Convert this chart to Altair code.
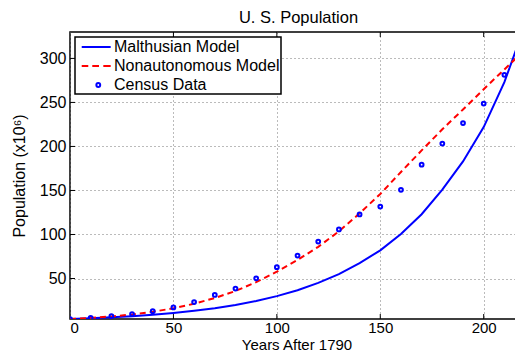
import altair as alt
import pandas as pd

# ---- data ----
years = [0, 10, 20, 30, 40, 50, 60, 70, 80, 90, 100, 110, 120, 130, 140, 150,
         160, 170, 180, 190, 200, 210, 220]
malthus = [3.9, 4.8, 5.9, 7.2, 8.8, 10.8, 13.3, 16.3, 19.9, 24.4, 30.0, 36.7,
           45.0, 55.0, 67.5, 82.0, 100.5, 123.0, 151.0, 183.0, 222.0, 273.0, 338.0]
nonauto = [3.9, 5.2, 6.9, 9.1, 12.2, 16.2, 21.3, 27.8, 35.8, 45.8, 57.8, 71.0,
           86.0, 103.5, 124.0, 146.0, 171.0, 195.5, 219.5, 242.0, 265.0, 287.5, 310.0]
census_years = [0, 10, 20, 30, 40, 50, 60, 70, 80, 90, 100, 110, 120, 130, 140,
                150, 160, 170, 180, 190, 200, 210]
census = [3.9, 5.3, 7.2, 9.6, 12.9, 17.1, 23.2, 31.4, 38.6, 50.2, 62.9, 76.0,
          92.0, 105.7, 122.8, 131.7, 150.7, 179.3, 203.3, 226.5, 248.7, 281.4]
series_names = ["Malthusian Model", "Nonautonomous Model", "Census Data"]
series_colors = ["#0000ff", "#ff0000", "#0000ff"]
x_ticks = [0, 50, 100, 150, 200]
y_ticks = [50, 100, 150, 200, 250, 300]

FONT = "Liberation Sans"
W, H = 453, 287
XDOM = [0, 219]
YDOM = [4, 330]

# legend symbol shapes (SVG paths in symbol units)
shape_paths = [
    "M-0.41,0H3.21",
    "M-0.41,0H0.41M0.91,0H1.75M2.29,0H3.21",
    "M1.9,0A0.24,0.24,0,1,1,1.42,0A0.24,0.24,0,1,1,1.9,0Z",
]

df_m = pd.DataFrame({"t": years, "P": malthus})
df_n = pd.DataFrame({"t": years, "P": nonauto})
df_c = pd.DataFrame({"t": census_years, "P": census})
df_leg = pd.DataFrame({"series": series_names})
df_xt = pd.DataFrame({"v": x_ticks[1:]})
df_yt = pd.DataFrame({"v": y_ticks})

xs = alt.Scale(domain=XDOM, nice=False, zero=False)
ys = alt.Scale(domain=YDOM, nice=False, zero=False)

x_enc = alt.X("t:Q", scale=xs, axis=alt.Axis(
    values=x_ticks, title="Years After 1790", grid=True, domain=False,
    ticks=False, labelPadding=1.5, labelFontSize=15, titleFontSize=15,
    titleBaseline="alphabetic", titleY=30.8))
y_enc = alt.Y("P:Q", scale=ys, axis=alt.Axis(
    values=y_ticks, title="Population (x10⁶)", grid=True, domain=False,
    ticks=False, labelPadding=4, titlePadding=12))

malthus_line = alt.Chart(df_m).mark_line(
    color="#0000ff", strokeWidth=2, clip=True).encode(x=x_enc, y=y_enc)
nonauto_line = alt.Chart(df_n).mark_line(
    color="#ff0000", strokeWidth=2, strokeDash=[6, 4], clip=True).encode(x="t:Q", y="P:Q")
points = alt.Chart(df_c).mark_point(
    filled=False, strokeWidth=2, size=14, color="#0000ff", opacity=1,
    shape="circle", clip=True).encode(x="t:Q", y="P:Q")

# legend-only layer (no rows survive the filter; legend comes from scale domain)
legend_layer = alt.Chart(df_leg).transform_filter("false").mark_point(
    filled=False, opacity=1).encode(
    color=alt.Color("series:N", scale=alt.Scale(domain=series_names, range=series_colors),
                    legend=alt.Legend(title=None)),
    shape=alt.Shape("series:N", scale=alt.Scale(domain=series_names, range=shape_paths),
                    legend=alt.Legend(title=None)),
)

tick_bottom = alt.Chart(df_xt).mark_rule(color="black", strokeWidth=1).encode(
    x="v:Q", y=alt.value(H), y2=alt.value(H - 5))
tick_top = alt.Chart(df_xt).mark_rule(color="black", strokeWidth=1).encode(
    x="v:Q", y=alt.value(0), y2=alt.value(5))
tick_left = alt.Chart(df_yt).mark_rule(color="black", strokeWidth=1).encode(
    y=alt.Y("v:Q"), x=alt.value(0), x2=alt.value(5))
tick_right = alt.Chart(df_yt).mark_rule(color="black", strokeWidth=1).encode(
    y=alt.Y("v:Q"), x=alt.value(W), x2=alt.value(W - 5))

chart = alt.layer(
    malthus_line, nonauto_line, points, legend_layer,
    tick_bottom, tick_top, tick_left, tick_right
).properties(
    width=W, height=H,
    title=alt.Title("U. S. Population", fontSize=16.5, fontWeight="normal",
                    font=FONT, color="black", offset=5.5, dx=2),
    autosize=alt.AutoSizeParams(type="none"),
    padding={"left": 62, "top": 24, "right": -8, "bottom": 34},
).configure_view(
    stroke="black", strokeWidth=1.5
).configure_axis(
    labelFont=FONT, titleFont=FONT, labelFontSize=16, titleFontSize=16,
    labelColor="black", titleColor="black", titleFontWeight="normal",
    gridColor="#777777", gridDash=[1, 3], gridWidth=1, gridOpacity=1,
).configure_legend(
    orient="top-left", offset=5, padding=1, strokeColor="black", strokeWidth=1.5,
    fillColor="white", cornerRadius=0, labelFont=FONT, labelFontSize=16,
    labelColor="black", labelLimit=0, symbolSize=256, symbolStrokeWidth=2,
    labelOffset=20, rowPadding=2, symbolFillColor="transparent",
)

chart.save("out.html", embed_options={"renderer": "svg", "actions": False})
